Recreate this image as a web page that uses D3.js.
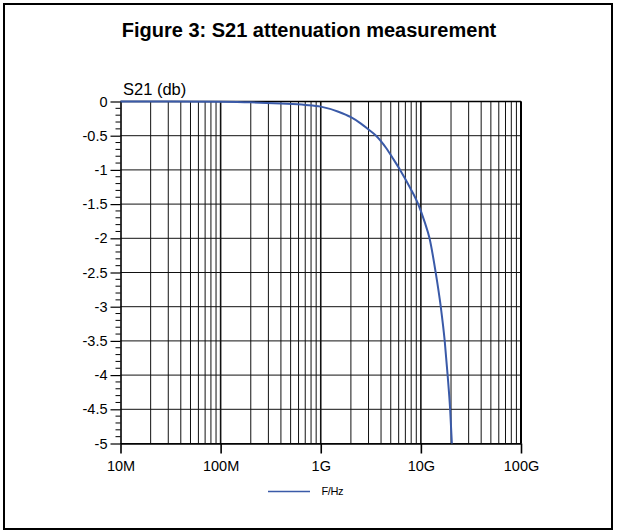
<!DOCTYPE html>
<html>
<head>
<meta charset="utf-8">
<script src="https://cdn.jsdelivr.net/npm/d3@7"></script>
<style>
  html, body { margin: 0; padding: 0; background: #fff; }
  svg { display: block; font-family: "Liberation Sans", Arial, sans-serif; }
</style>
</head>
<body>
<svg id="chart" width="617" height="531"></svg>
<script>
// Data
const freqHz = [1e7, 3e7, 1e8, 2e8, 4e8, 7e8, 1e9, 1.5e9, 2e9, 2.5e9, 3e9, 3.57e9, 4.5e9, 5.3e9, 6.2e9, 7.8e9, 9.4e9, 10.9e9, 12.2e9, 14.06e9, 15.8e9, 17.3e9, 18.5e9, 19.6e9, 20.4e9];
const s21dB  = [0, 0, -0.004, -0.012, -0.03, -0.05, -0.075, -0.15, -0.23, -0.32, -0.41, -0.5, -0.68, -0.84, -1.0, -1.26, -1.5, -1.76, -2.0, -2.5, -3.0, -3.5, -4.0, -4.5, -5.0];
const xTickValues = [1e7, 1e8, 1e9, 1e10, 1e11];
const xTickLabels = ["10M", "100M", "1G", "10G", "100G"];
const yTickValues = [0, -0.5, -1, -1.5, -2, -2.5, -3, -3.5, -4, -4.5, -5];
const titleText = "Figure 3: S21 attenuation measurement";
const yAxisTitle = "S21 (db)";
const legendLabel = "F/Hz";

const svg = d3.select("#chart");
const L = 120.5, R = 521, T = 101.5, B = 443.5;
const x = d3.scaleLog().domain([1e7, 1e11]).range([L, R]);
const y = d3.scaleLinear().domain([0, -5]).range([T, B]);
const blue = "#3a5aa8";
const FONT = "Liberation Sans, Arial, sans-serif";

// outer frame
svg.append("rect").attr("x", 4).attr("y", 4).attr("width", 608).attr("height", 525)
  .attr("fill", "none").attr("stroke", "#000").attr("stroke-width", 2);

// title
svg.append("text").attr("x", 309).attr("y", 37).attr("text-anchor", "middle")
  .attr("font-size", 20).attr("font-weight", "bold").text(titleText);

// minor vertical grid lines
const minors = [];
for (let d = 1e7; d < 1e11; d *= 10) for (let k = 2; k <= 9; k++) minors.push(d * k);
svg.append("g").selectAll("line").data(minors).join("line")
  .attr("x1", d => x(d)).attr("x2", d => x(d)).attr("y1", T).attr("y2", B)
  .attr("stroke", "#111").attr("stroke-width", 1);

// horizontal grid lines
svg.append("g").selectAll("line").data(yTickValues).join("line")
  .attr("x1", L).attr("x2", R).attr("y1", d => y(d)).attr("y2", d => y(d))
  .attr("stroke", "#111").attr("stroke-width", 1);

// decade lines
svg.append("g").selectAll("line").data(xTickValues.slice(1)).join("line")
  .attr("x1", d => x(d)).attr("x2", d => x(d)).attr("y1", T).attr("y2", B)
  .attr("stroke", "#111").attr("stroke-width", 1.6);

// x axis
const xAxis = d3.axisBottom(x).tickValues(xTickValues)
  .tickFormat((d, i) => xTickLabels[i]).tickSize(10).tickSizeOuter(0).tickPadding(7);
const gx = svg.append("g").attr("transform", `translate(0,${B})`).call(xAxis);
gx.select(".domain").attr("stroke", "#000").attr("stroke-width", 1.6);
gx.selectAll(".tick line").attr("stroke", "#000").attr("stroke-width", 1.6);
gx.selectAll("text").attr("font-size", 14.5).attr("fill", "#000").attr("font-family", FONT);

// y axis major
const yAxis = d3.axisLeft(y).tickValues(yTickValues).tickSize(10)
  .tickSizeOuter(0).tickPadding(3);
const gy = svg.append("g").attr("transform", `translate(${L},0)`).call(yAxis);
gy.select(".domain").attr("stroke", "#000").attr("stroke-width", 1.6);
gy.selectAll(".tick line").attr("stroke", "#000").attr("stroke-width", 1.2);
gy.selectAll("text").attr("font-size", 14.5).attr("fill", "#000").attr("font-family", FONT)
  .text(d => d === 0 ? "0" : String(d));

// y minor ticks
const yMinor = d3.range(0, 50).map(i => -i / 10).filter(v => Math.abs(v * 2 - Math.round(v * 2)) > 1e-6);
svg.append("g").selectAll("line").data(yMinor).join("line")
  .attr("x1", L - 5).attr("x2", L).attr("y1", d => y(d)).attr("y2", d => y(d))
  .attr("stroke", "#000").attr("stroke-width", 1);

// top and right border of plot
svg.append("line").attr("x1", L).attr("x2", R).attr("y1", T).attr("y2", T)
  .attr("stroke", "#000").attr("stroke-width", 1.4);
svg.append("line").attr("x1", R).attr("x2", R).attr("y1", T).attr("y2", B)
  .attr("stroke", "#000").attr("stroke-width", 2);

// y axis title
svg.append("text").attr("x", 123).attr("y", 95).attr("font-size", 16.5).text(yAxisTitle);

// curve
const line = d3.line().x((d, i) => x(freqHz[i])).y(d => y(d)).curve(d3.curveMonotoneX);
svg.append("path").datum(s21dB).attr("d", line)
  .attr("fill", "none").attr("stroke", blue).attr("stroke-width", 2);

// legend
svg.append("line").attr("x1", 268).attr("x2", 310).attr("y1", 491.5).attr("y2", 491.5)
  .attr("stroke", blue).attr("stroke-width", 1.3);
svg.append("text").attr("x", 321.5).attr("y", 494.5).attr("font-size", 11)
  .attr("letter-spacing", -0.4).text(legendLabel);
</script>
</body>
</html>
